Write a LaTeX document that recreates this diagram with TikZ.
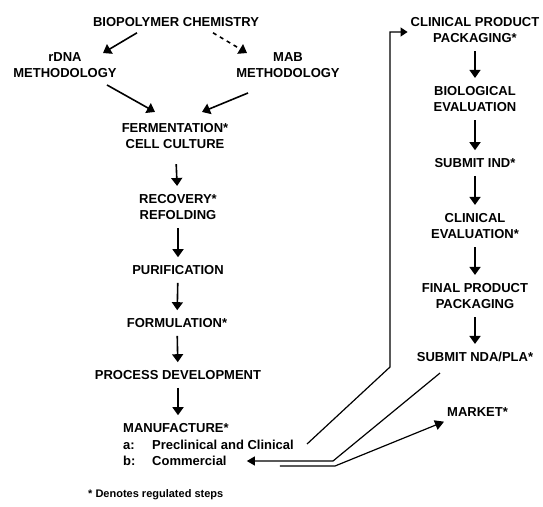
\documentclass[tikz,border=0pt]{standalone}
\usepackage{fontspec}
\setmainfont{Liberation Sans}
\usetikzlibrary{arrows.meta, positioning, calc}

\begin{document}
\begin{tikzpicture}[x=1pt, y=-1pt,
  lbl/.style={font=\fontsize{13}{16.5}\selectfont\bfseries, align=center, inner sep=3pt},
  arr/.style={line width=1.6pt, -{Triangle[length=8pt,width=11pt]}, shorten <=5pt, shorten >=5pt},
  link/.style={line width=1.2pt}]
\useasboundingbox (0,0) rectangle (543,506);

% left column
\node[lbl] (bio) at (176,22) {BIOPOLYMER CHEMISTRY};
\node[lbl] (rdna) at (65,65) {rDNA\\METHODOLOGY};
\node[lbl] (mab) at (288,65) {MAB\\METHODOLOGY};
\node[lbl] (ferm) at (175,136) {FERMENTATION*\\CELL CULTURE};
\node[lbl] (recov) at (178,207) {RECOVERY*\\REFOLDING};
\node[lbl] (purif) at (178,270) {PURIFICATION};
\node[lbl] (formul) at (177,323) {FORMULATION*};
\node[lbl] (procdev) at (178,375) {PROCESS DEVELOPMENT};
\node[lbl, anchor=west] (manuf) at (120,428) {MANUFACTURE*};
\node[lbl, anchor=west] (pre) at (120,445) {\makebox[29pt][l]{a:}Preclinical and Clinical};
\node[lbl, anchor=west] (com) at (120,461) {\makebox[29pt][l]{b:}Commercial};
\node[lbl, anchor=west, font=\fontsize{11}{13}\selectfont\bfseries] (note) at (85,495) {* Denotes regulated steps};

% right column
\node[lbl] (cpp) at (475,30) {CLINICAL PRODUCT\\PACKAGING*};
\node[lbl] (bioeval) at (475,99) {BIOLOGICAL\\EVALUATION};
\node[lbl] (ind) at (475,163) {SUBMIT IND*};
\node[lbl] (clineval) at (475,226) {CLINICAL\\EVALUATION*};
\node[lbl] (final) at (475,296) {FINAL PRODUCT\\PACKAGING};
\node[lbl] (nda) at (475,357) {SUBMIT NDA/PLA*};
\node[lbl, anchor=west] (market) at (444,412) {MARKET*};

\draw[arr, shorten <=0pt, shorten >=0pt] ([xshift=-39pt,yshift=-3pt]bio.south) -- ([xshift=38pt,yshift=-4pt]rdna.north);
\draw[arr, shorten <=0pt, shorten >=0pt, dash pattern=on 4pt off 4pt] ([xshift=37pt,yshift=-3pt]bio.south) -- ([xshift=-41pt,yshift=-4pt]mab.north);
\draw[arr, shorten <=0pt, shorten >=0pt] ([xshift=42pt,yshift=-4pt]rdna.south) -- ([xshift=-20pt,yshift=8pt]ferm.north);
\draw[arr, shorten <=0pt, shorten >=0pt] ([xshift=-40pt,yshift=-12pt]mab.south) -- ([xshift=27pt,yshift=8pt]ferm.north);

\draw[arr, shorten <=12pt] (ferm) -- (recov);
\draw[arr] (recov) -- (purif);
\draw[arr] (purif) -- (formul);
\draw[arr] (formul) -- (procdev);
\draw[arr] (procdev) -- (manuf.north -| procdev);

\draw[arr, line width=1.2pt] (cpp) -- (bioeval);
\draw[arr] (bioeval) -- (ind);
\draw[arr] (ind) -- (clineval);
\draw[arr] (clineval) -- (final);
\draw[arr] (final) -- (nda);

% links between the columns
\coordinate (kink) at (390,367);
\coordinate (fork) at (333,461);
\coordinate (fork2) at (335,466);
\draw[link, -{Triangle[length=7pt,width=9pt]}] ([xshift=10pt,yshift=1pt]pre.east) -- (kink) |- ([yshift=-2pt]cpp.west);
\draw[link, -{Triangle[length=8pt,width=9pt]}] ([xshift=-35pt,yshift=-8pt]nda.south) -- (fork) -- ([xshift=17pt]com.east);
\draw[link, -{Triangle[length=9pt,width=10pt]}] ([xshift=50pt,yshift=-5pt]com.east) -- (fork2) -- ([yshift=-2pt]market.south west);
\end{tikzpicture}
\end{document}
